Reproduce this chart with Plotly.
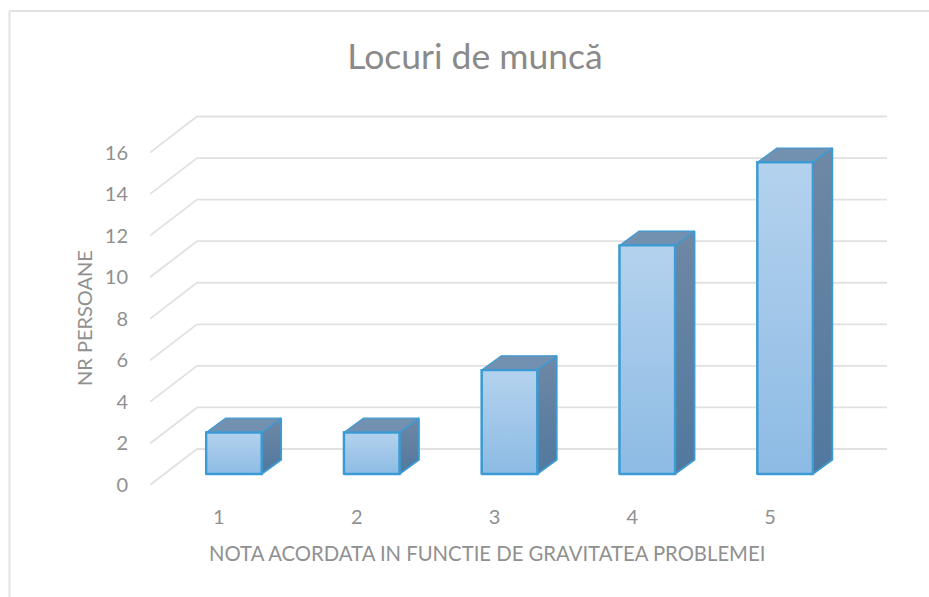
import plotly.graph_objects as go

categories = [1, 2, 3, 4, 5]
values = [2, 2, 5, 11, 15]
y_ticks = [0, 2, 4, 6, 8, 10, 12, 14, 16]
title_text = "Locuri de muncă"
x_title = "NOTA ACORDATA IN FUNCTIE DE GRAVITATEA PROBLEMEI"
y_title = "NR PERSOANE"

W, H = 929, 597
L, R, T, B = 150, 887, 100, 485     # plot area in pixels
PX_X = 137.8                        # pixels per category
PX_Y = 20.78                        # pixels per count
X_AT_ONE = 233.9                    # pixel of category 1 (bar centre)
Y_AT_ZERO = 474.0                   # pixel of count 0 on the bar plane

x_range = [1 + (L - X_AT_ONE) / PX_X, 1 + (R - X_AT_ONE) / PX_X]
y_range = [(Y_AT_ZERO - B) / PX_Y, (Y_AT_ZERO - T) / PX_Y]

BAR_W = 55.5 / PX_X
DX = 19.5 / PX_X          # bar depth
DY = 14.3 / PX_Y
WALL_DX = 47 / PX_X       # floor depth
WALL_DY = 36 / PX_Y
FRONT = y_range[0]        # value axis labels sit on the front edge of the floor
LABEL_SHIFT = -15 / PX_X  # category labels sit left of the bars

EDGE = "#3c9bd4"
GRID = "#e1e1e1"
TEXT = "#909090"

fig = go.Figure()

# Floor and wall gridlines
for v in y_ticks:
    y0 = v + FRONT
    fig.add_trace(go.Scatter(
        x=[x_range[0], x_range[0] + WALL_DX, x_range[1]],
        y=[y0, y0 + WALL_DY, y0 + WALL_DY],
        mode="lines", line=dict(color=GRID, width=1.8),
        hoverinfo="skip", showlegend=False))

# Front faces as real bars
fig.add_trace(go.Bar(
    x=categories, y=values, width=BAR_W,
    marker=dict(color="#a0c6e9", line=dict(color=EDGE, width=2)),
    showlegend=False))

# Depth faces and gradient overlay derived from the values
for c, v in zip(categories, values):
    xl, xr = c - BAR_W / 2, c + BAR_W / 2
    fig.add_trace(go.Scatter(
        x=[xr, xr + DX, xr + DX, xr, xr],
        y=[0, DY, v + DY, v, 0],
        mode="lines", fill="toself",
        line=dict(color=EDGE, width=1.8),
        fillgradient=dict(type="vertical",
                          colorscale=[[0, "#50789e"], [1, "#6f88a5"]]),
        hoverinfo="skip", showlegend=False))
    fig.add_trace(go.Scatter(
        x=[xl, xl + DX, xr + DX, xr, xl],
        y=[v, v + DY, v + DY, v, v],
        mode="lines", fill="toself",
        line=dict(color=EDGE, width=1.2),
        fillcolor="#7291b1",
        hoverinfo="skip", showlegend=False))
    fig.add_trace(go.Scatter(
        x=[xl, xr, xr, xl, xl],
        y=[0, 0, v, v, 0],
        mode="lines", fill="toself",
        line=dict(color=EDGE, width=2.4),
        fillgradient=dict(type="vertical",
                          colorscale=[[0, "#8dbbe4"], [1, "#b4d2ee"]]),
        hoverinfo="skip", showlegend=False))

# Chart frame: only the left and top edges are visible in the picture
def px(x): return (x - L) / (R - L)
def py(y): return (B - y) / (B - T)

fig.add_shape(type="line", xref="paper", yref="paper", layer="below",
              x0=px(9.5), x1=px(929), y0=py(11), y1=py(11),
              line=dict(color="#e2e2e2", width=2))
fig.add_shape(type="line", xref="paper", yref="paper", layer="below",
              x0=px(9.5), x1=px(9.5), y0=py(11), y1=py(597),
              line=dict(color="#e2e2e2", width=2))

# Axis titles are centred on the whole chart, not on the plot area
fig.add_annotation(text=x_title, xref="paper", yref="paper",
                   x=px(487), y=py(553), xanchor="center", yanchor="middle",
                   showarrow=False, font=dict(size=20.3, color=TEXT))
fig.add_annotation(text=y_title, xref="paper", yref="paper",
                   x=px(84), y=py(318), xanchor="center", yanchor="middle",
                   textangle=-90, showarrow=False, font=dict(size=20, color=TEXT))

fig.update_layout(
    width=W, height=H,
    margin=dict(l=L, r=W - R, t=T, b=H - B, pad=0),
    paper_bgcolor="white", plot_bgcolor="white",
    font=dict(family="Lato, Carlito, sans-serif", color=TEXT),
    showlegend=False,
    title=dict(text=title_text, x=475 / W, xanchor="center",
               y=1 - 57 / H, yanchor="middle",
               font=dict(size=35.5, color="#8a8a8a")),
    xaxis=dict(range=x_range, showgrid=False, zeroline=False, showline=False,
               tickmode="array",
               tickvals=[c + LABEL_SHIFT for c in categories],
               ticktext=[str(c) for c in categories],
               ticks="outside", ticklen=14, tickcolor="rgba(0,0,0,0)",
               tickfont=dict(size=20, color=TEXT)),
    yaxis=dict(range=y_range, showgrid=False, zeroline=False, showline=False,
               tickmode="array",
               tickvals=[v + FRONT for v in y_ticks],
               ticktext=[str(v) for v in y_ticks],
               ticks="outside", ticklen=17, tickcolor="rgba(0,0,0,0)",
               tickfont=dict(size=20, color=TEXT)),
)

fig.write_html("out.html", config={"displayModeBar": False},
               post_script="document.body.style.margin='0';")
